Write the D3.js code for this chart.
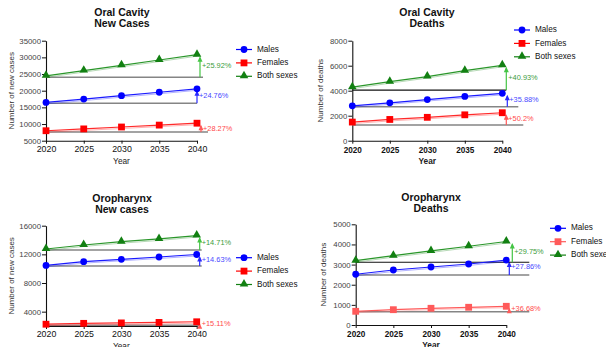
<!DOCTYPE html>
<html>
<head>
<meta charset="utf-8">
<script src="https://cdnjs.cloudflare.com/ajax/libs/d3/7.8.5/d3.min.js"></script>
<style>
  body { margin: 0; background: #fff; }
  text { font-family: "Liberation Sans", Arial, sans-serif; }
</style>
</head>
<body>
<svg id="chart" width="606" height="347"></svg>
<script>
const years = [2020, 2025, 2030, 2035, 2040];
const seriesNames = ['Males', 'Females', 'Both sexes'];

// oral cavity - new cases
const ocCasesMales = [16480, 17480, 18500, 19530, 20560];
const ocCasesFemales = [7990, 8540, 9110, 9680, 10250];
const ocCasesBoth = [24470, 26020, 27610, 29210, 30810];
const ocCasesBase = [16220, 7610, 24020];
const ocCasesPct = ['+24.76%', '+28.27%', '+25.92%'];
const ocCasesTicks = [5000, 10000, 15000, 20000, 25000, 30000, 35000];

// oral cavity - deaths
const ocDeathsMales = [2790, 3030, 3290, 3540, 3790];
const ocDeathsFemales = [1490, 1700, 1870, 2070, 2238];
const ocDeathsBoth = [4280, 4720, 5130, 5600, 6032];
const ocDeathsBase = [2720, 1256, 4050];
const ocDeathsPct = ['+35.88%', '+50.2%', '+40.93%'];
const ocDeathsTicks = [0, 2000, 4000, 6000, 8000];

// oropharynx - new cases
const opCasesMales = [10450, 10980, 11310, 11630, 11980];
const opCasesFemales = [2250, 2370, 2430, 2500, 2590];
const opCasesBoth = [12750, 13310, 13770, 14150, 14626];
const opCasesBase = [10380, 2110, 12610];
const opCasesPct = ['+14.63%', '+15.11%', '+14.71%'];
const opCasesTicks = [4000, 8000, 12000, 16000];

// oropharynx - deaths
const opDeathsMales = [2520, 2730, 2880, 3030, 3222];
const opDeathsFemales = [680, 760, 830, 880, 929];
const opDeathsBoth = [3195, 3443, 3676, 3910, 4145];
const opDeathsBase = [2484, 661, 3115];
const opDeathsPct = ['+27.86%', '+36.68%', '+29.75%'];
const opDeathsTicks = [0, 1000, 2000, 3000, 4000, 5000];

const svg = d3.select('#chart');

const markColor = ['#0000ff', '#ff0000', '#128012'];
const lineColor = ['#1a1aff', '#ff2a2a', '#2a962a'];
const arrowColor = ['#2a2aff', '#ff5a5a', '#44c444'];
const pctColor = ['#4848ff', '#ff4a4a', '#3c9c3c'];

const drawMark = (g, i, cx, cy, color) => {
    if (i === 0) {
        g.append('circle').attr('cx', cx).attr('cy', cy).attr('r', 3.4).attr('fill', color);
    } else if (i === 1) {
        g.append('rect').attr('x', cx - 3.4).attr('y', cy - 3.4)
            .attr('width', 6.8).attr('height', 6.8).attr('fill', color);
    } else {
        g.append('path').attr('d', d3.symbol(d3.symbolTriangle, 32)())
            .attr('transform', `translate(${cx},${cy - 0.5})`).attr('fill', color);
    }
};

function drawPanel (p) {
    const g = svg.append('g');
    const x = d3.scaleLinear().domain([2020, 2040]).range([p.left, p.right]);
    const y = d3.scaleLinear().domain(p.yDomain).range([p.bottom, p.top]);
    const series = [p.males, p.females, p.both];
    const colors = p.colors || markColor;

    // title
    p.title.forEach((t, i) => {
        g.append('text').attr('x', p.titleX).attr('y', p.titleY + i * 11)
            .attr('text-anchor', 'middle').attr('font-weight', 'bold')
            .attr('font-size', 10.5).attr('fill', '#111').text(t);
    });

    // axes
    const ya = g.append('g').attr('transform', `translate(${p.left},0)`)
        .call(d3.axisLeft(y).tickValues(p.yTicks).tickFormat(d3.format('d'))
            .tickSize(4).tickSizeOuter(0).tickPadding(1));
    ya.selectAll('text').attr('font-size', 7.8).attr('fill', '#444').attr('font-family', null);
    const xa = g.append('g').attr('transform', `translate(0,${p.bottom})`)
        .call(d3.axisBottom(x).tickValues(years).tickFormat(d3.format('d')).tickSize(3)
            .tickSizeOuter(0).tickPadding(p.boldX ? 3.5 : 2));
    xa.selectAll('text').attr('font-size', p.boldX ? 8.2 : 8.8)
        .attr('font-weight', p.boldX ? 'bold' : null).attr('fill', '#111').attr('font-family', null);
    [ya, xa].forEach(a => {
        a.select('.domain').attr('stroke', '#111').attr('stroke-width', 1.1);
        a.selectAll('.tick line').attr('stroke', '#111');
    });

    g.append('text').attr('x', (p.left + p.right) / 2).attr('y', p.bottom + 23)
        .attr('text-anchor', 'middle').attr('font-size', 8.3)
        .attr('font-weight', p.boldX ? 'bold' : null).attr('fill', '#222').text('Year');
    g.append('text')
        .attr('transform', `translate(${p.yLabelX},${(p.top + p.bottom) / 2}) rotate(-90)`)
        .attr('text-anchor', 'middle').attr('font-size', 8).attr('fill', '#333')
        .text(p.yLabel);

    const line = d3.line().x((d, j) => x(years[j])).y(d => y(d));

    // reference lines, arrows and percentages
    series.forEach((vals, i) => {
        const a = p.notes[i];
        const yb = y(p.base[i]);
        const yt = y(vals[vals.length - 1]);
        const ax = x(2040) + a.ax;
        g.append('line').attr('x1', p.left).attr('x2', x(2040) + a.end)
            .attr('y1', yb).attr('y2', yb)
            .attr('stroke', a.black ? '#111' : '#858585')
            .attr('stroke-width', a.black ? 1.1 : 1.6);
        g.append('line').attr('x1', ax).attr('x2', ax).attr('y1', yb).attr('y2', yt + 3)
            .attr('stroke', arrowColor[i]).attr('stroke-width', 1.2);
        g.append('path').attr('d', `M${ax - 2.5},${yt + 7}L${ax},${yt + 1.5}L${ax + 2.5},${yt + 7}Z`)
            .attr('fill', arrowColor[i]);
        g.append('text').attr('x', ax + 2).attr('y', (yb + yt) / 2 + (a.dy || 0))
            .attr('dominant-baseline', 'middle').attr('font-size', 7.4)
            .attr('fill', pctColor[i]).text(p.pct[i]);
    });

    // series lines and markers
    series.forEach((vals, i) => {
        g.append('path').datum(vals).attr('d', line)
            .attr('transform', 'translate(0,1.5)')
            .attr('fill', 'none').attr('stroke', colors[i]).attr('stroke-opacity', 0.3)
            .attr('stroke-width', 1);
        g.append('path').datum(vals).attr('d', line)
            .attr('fill', 'none').attr('stroke', i === 1 && p.colors ? colors[i] : lineColor[i])
            .attr('stroke-width', 1.2);
        vals.forEach((v, j) => drawMark(g, i, x(years[j]), y(v), colors[i]));
    });

    // legend
    seriesNames.forEach((name, i) => {
        const ly = p.legendY + i * 13.4;
        g.append('line').attr('x1', p.legendX - 8).attr('x2', p.legendX + 8)
            .attr('y1', ly).attr('y2', ly).attr('stroke', colors[i]).attr('stroke-width', 1.2);
        drawMark(g, i, p.legendX, ly, colors[i]);
        g.append('text').attr('x', p.legendX + 13).attr('y', ly)
            .attr('dominant-baseline', 'middle').attr('font-size', 8.2)
            .attr('fill', '#111').text(name);
    });
}

drawPanel({
    title: ['Oral Cavity', 'New Cases'], titleX: 122, titleY: 16,
    left: 46, right: 197, top: 40.7, bottom: 140.7,
    yDomain: [5000, 35000], yTicks: ocCasesTicks, yLabel: 'Number of new cases', yLabelX: 14,
    males: ocCasesMales, females: ocCasesFemales, both: ocCasesBoth,
    base: ocCasesBase, pct: ocCasesPct,
    notes: [{ end: 0, ax: 0 }, { end: 11, ax: 4, dy: 1 }, { end: 6, ax: 3 }],
    legendX: 244, legendY: 49.5
});

drawPanel({
    title: ['Oral Cavity', 'Deaths'], titleX: 427, titleY: 16,
    left: 352.3, right: 502.3, top: 40.7, bottom: 140.7, boldX: true,
    yDomain: [0, 8000], yTicks: ocDeathsTicks, yLabel: 'Number of deaths', yLabelX: 323,
    males: ocDeathsMales, females: ocDeathsFemales, both: ocDeathsBoth,
    base: ocDeathsBase, pct: ocDeathsPct,
    notes: [{ end: 16, ax: 5 }, { end: 21, ax: 4 }, { end: 4, ax: 4, black: true, dy: 0 }],
    legendX: 522, legendY: 30
});

drawPanel({
    title: ['Oropharynx', 'New cases'], titleX: 122, titleY: 202,
    left: 46, right: 196.7, top: 225.7, bottom: 326,
    yDomain: [2000, 16000], yTicks: opCasesTicks, yLabel: 'Number of new cases', yLabelX: 14,
    males: opCasesMales, females: opCasesFemales, both: opCasesBoth,
    base: opCasesBase, pct: opCasesPct,
    notes: [{ end: 5, ax: 3 }, { end: 3, ax: 3, dy: 1 }, { end: 5, ax: 3 }],
    legendX: 244, legendY: 257.7
});

drawPanel({
    title: ['Oropharynx', 'Deaths'], titleX: 431, titleY: 201,
    left: 355.7, right: 506.3, top: 224.3, bottom: 325, boldX: true,
    yDomain: [0, 5000], yTicks: opDeathsTicks, yLabel: 'Number of deaths', yLabelX: 326,
    males: opDeathsMales, females: opDeathsFemales, both: opDeathsBoth,
    base: opDeathsBase, pct: opDeathsPct,
    colors: ['#0000ff', '#ff5a5a', '#128012'],
    notes: [{ end: 23, ax: 3 }, { end: 23, ax: 3 }, { end: 23, ax: 6, black: true }],
    legendX: 558, legendY: 228.3
});
</script>
</body>
</html>
